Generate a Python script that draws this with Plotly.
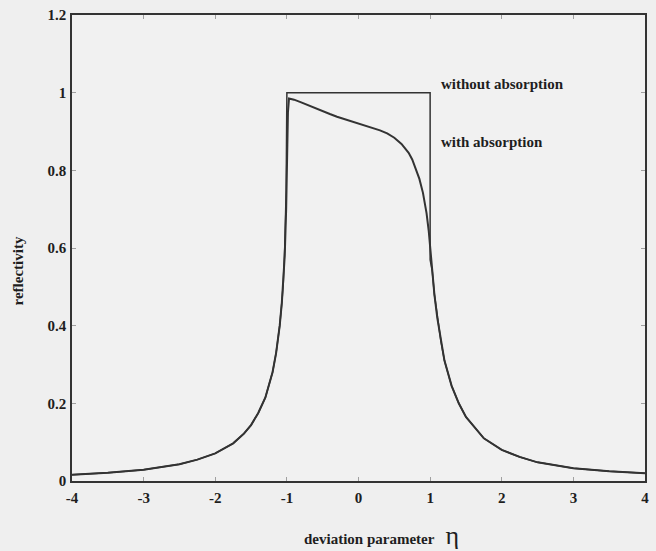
import plotly.graph_objects as go

# Reflectivity with absorption
eta_abs = [-4, -3.5, -3, -2.5, -2.25, -2, -1.75, -1.6, -1.5, -1.4, -1.3, -1.25, -1.2, -1.15,
           -1.1, -1.07, -1.05, -1.03, -1.01, -0.995, -0.985, -0.97, -0.9, -0.8, -0.7, -0.6,
           -0.5, -0.4, -0.3, -0.2, -0.1, 0, 0.1, 0.2, 0.3, 0.4, 0.5, 0.6, 0.7, 0.75, 0.8,
           0.85, 0.9, 0.95, 0.98, 1.0, 1.03, 1.06, 1.1, 1.15, 1.2, 1.3, 1.4, 1.5, 1.75, 2,
           2.25, 2.5, 3, 3.5, 4]
refl_abs = [0.016, 0.021, 0.029, 0.043, 0.055, 0.071, 0.097, 0.122, 0.144, 0.175, 0.215, 0.245,
            0.28, 0.33, 0.40, 0.46, 0.51, 0.58, 0.70, 0.85, 0.95, 0.985, 0.982, 0.975, 0.968,
            0.96, 0.952, 0.945, 0.938, 0.932, 0.927, 0.922, 0.916, 0.91, 0.903, 0.895, 0.884,
            0.868, 0.845, 0.828, 0.805, 0.778, 0.742, 0.69, 0.645, 0.60, 0.54, 0.48, 0.42,
            0.36, 0.31, 0.245, 0.20, 0.165, 0.11, 0.08, 0.062, 0.048, 0.033, 0.025, 0.02]

# Reflectivity without absorption
eta_noabs = [-4, -3.5, -3, -2.5, -2.25, -2, -1.75, -1.6, -1.5, -1.4, -1.3, -1.25, -1.2, -1.15,
             -1.1, -1.07, -1.05, -1.03, -1.01, -1.0, 1.0, 1.0, 1.03, 1.06, 1.1, 1.15, 1.2,
             1.3, 1.4, 1.5, 1.75, 2, 2.25, 2.5, 3, 3.5, 4]
refl_noabs = [0.016, 0.021, 0.029, 0.043, 0.055, 0.071, 0.097, 0.122, 0.144, 0.175, 0.215,
              0.245, 0.28, 0.33, 0.40, 0.46, 0.51, 0.60, 0.75, 1.0, 1.0, 0.57, 0.54, 0.48,
              0.42, 0.36, 0.31, 0.245, 0.20, 0.165, 0.11, 0.08, 0.062, 0.048, 0.033, 0.025, 0.02]

x_ticks = [-4, -3, -2, -1, 0, 1, 2, 3, 4]
x_ticktext = ["-4", "-3", "-2", "-1", "0", "1", "2", "3", "4"]
y_ticks = [0, 0.2, 0.4, 0.6, 0.8, 1.0, 1.2]
y_ticktext = ["0", "0.2", "0.4", "0.6", "0.8", "1", "1.2"]

labels = ["without absorption", "with absorption"]
label_x = [1.13, 1.13]
label_y = [1.023, 0.874]

serif = "Liberation Serif"
ink = "#1e1e1e"

fig = go.Figure()
fig.add_trace(go.Scatter(x=eta_noabs, y=refl_noabs, mode="lines",
                         line=dict(color="#333333", width=1.5), showlegend=False))
fig.add_trace(go.Scatter(x=eta_abs, y=refl_abs, mode="lines",
                         line=dict(color="#333333", width=2), showlegend=False))

for t, xx, yy in zip(labels, label_x, label_y):
    fig.add_annotation(x=xx, y=yy, xref="x", yref="y", text=t, showarrow=False,
                       xanchor="left", yanchor="middle",
                       font=dict(family=serif, size=15, color=ink, weight="bold"))

fig.add_annotation(x=0.54, y=-0.118, xref="paper", yref="paper",
                   text="deviation parameter   <span style='font-size:26px;font-weight:normal'>η</span>",
                   showarrow=False, xanchor="center", yanchor="middle",
                   font=dict(family=serif, size=15, color=ink, weight="bold"))
fig.add_annotation(x=-0.094, y=0.45, xref="paper", yref="paper", text="reflectivity",
                   showarrow=False, textangle=-90, xanchor="center", yanchor="middle",
                   font=dict(family=serif, size=15, color=ink, weight="bold"))

axis_common = dict(showline=True, linecolor="#333333", linewidth=1.5, mirror="ticks",
                   ticks="inside", ticklen=4, tickcolor="#a0a0a0", tickwidth=1,
                   showgrid=False, zeroline=False,
                   tickfont=dict(family=serif, size=15, color=ink, weight="bold"))

fig.update_layout(
    width=656, height=551,
    margin=dict(l=72, r=7, t=13, b=70),
    paper_bgcolor="#efefef", plot_bgcolor="#f1f1f1",
    xaxis=dict(range=[-4, 4], tickvals=x_ticks, ticktext=x_ticktext, ticklabelstandoff=2,
               **axis_common),
    yaxis=dict(range=[0, 1.2], tickvals=y_ticks, ticktext=y_ticktext, ticklabelstandoff=1,
               **axis_common),
)

fig.write_html("out.html")
